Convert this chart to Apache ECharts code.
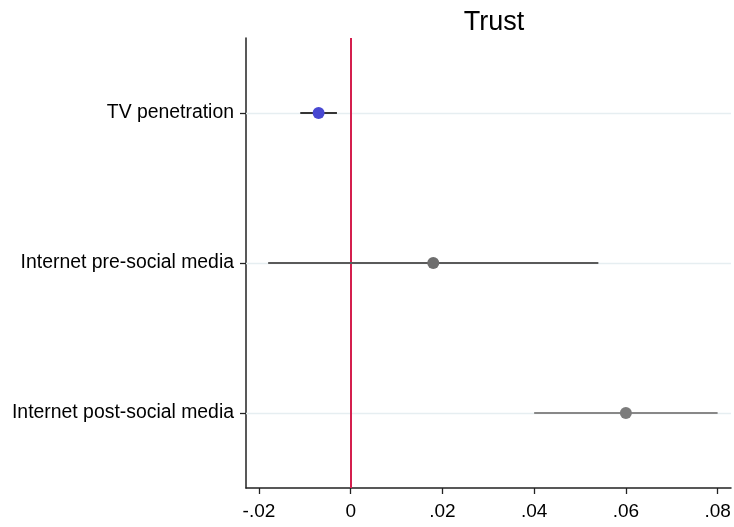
<!DOCTYPE html>
<html>
<head>
<meta charset="utf-8">
<script src="https://cdn.jsdelivr.net/npm/echarts@6/dist/echarts.min.js"></script>
<style>html,body{margin:0;padding:0;background:#fff}#c{width:734px;height:527px}</style>
</head>
<body>
<div id="c"></div>
<script>
var categories = ['TV penetration', 'Internet pre-social media', 'Internet post-social media'];
var estimates = [-0.0070, 0.0180, 0.0600];
var ciLow = [-0.0110, -0.0180, 0.0400];
var ciHigh = [-0.0030, 0.0540, 0.0800];
var tickValues = [-0.02, 0, 0.02, 0.04, 0.06, 0.08];
var tickLabels = ['-.02', '0', '.02', '.04', '.06', '.08'];
var dotColors = ['#4848d2', '#6e6e6e', '#7c7c7c'];
var lineColors = ['#353535', '#5a5a5a', '#888888'];

var chart = echarts.init(document.getElementById('c'));
var font = 'Liberation Sans, Arial, sans-serif';

var series = categories.map(function (c, i) {
  return {
    type: 'line', symbol: 'none', z: 3, silent: true,
    lineStyle: {color: lineColors[i], width: 2.2},
    data: [[ciLow[i], c], [ciHigh[i], c]]
  };
});
series.push({
  type: 'scatter', symbol: 'circle', symbolSize: 12, z: 5,
  data: categories.map(function (c, i) { return {value: [estimates[i], c], itemStyle: {color: dotColors[i], opacity: 1}}; }),
  markLine: {
    silent: true, symbol: 'none', label: {show: false}, z: 1,
    data: categories.map(function (c) { return {yAxis: c, lineStyle: {color: '#e6eef1', width: 1.4, type: 'solid', opacity: 1}}; })
      .concat([{xAxis: 0, lineStyle: {color: '#d41f4e', width: 2, type: 'solid', opacity: 1}}])
  }
});

chart.setOption({
  animation: false,
  title: {text: 'Trust', left: 489, top: 4, textAlign: 'center',
    textStyle: {fontFamily: font, fontSize: 27, fontWeight: 'normal', color: '#000'}},
  grid: {left: 246, right: 3, top: 38, bottom: 39, containLabel: false},
  xAxis: {
    type: 'value', min: -0.02283, max: 0.08292,
    axisLine: {show: true, onZero: false, lineStyle: {color: '#222', width: 1.5}},
    axisTick: {show: true, length: 6, customValues: tickValues, lineStyle: {color: '#222', width: 1.3}},
    axisLabel: {customValues: tickValues, margin: 14, fontFamily: font, fontSize: 19, color: '#000',
      formatter: function (v) { var i = tickValues.findIndex(function (t) { return Math.abs(t - v) < 1e-9; }); return i >= 0 ? tickLabels[i] : ''; }},
    splitLine: {show: false}
  },
  yAxis: {
    type: 'category', data: categories, inverse: true,
    axisLine: {show: true, onZero: false, lineStyle: {color: '#222', width: 1.5}},
    axisTick: {show: true, alignWithLabel: true, length: 6, lineStyle: {color: '#222', width: 1.3}},
    axisLabel: {margin: 12, fontFamily: font, fontSize: 19.4, color: '#000', padding: [4, 0, 0, 0]},
    splitLine: {show: false}
  },
  series: series
});
</script>
</body>
</html>
